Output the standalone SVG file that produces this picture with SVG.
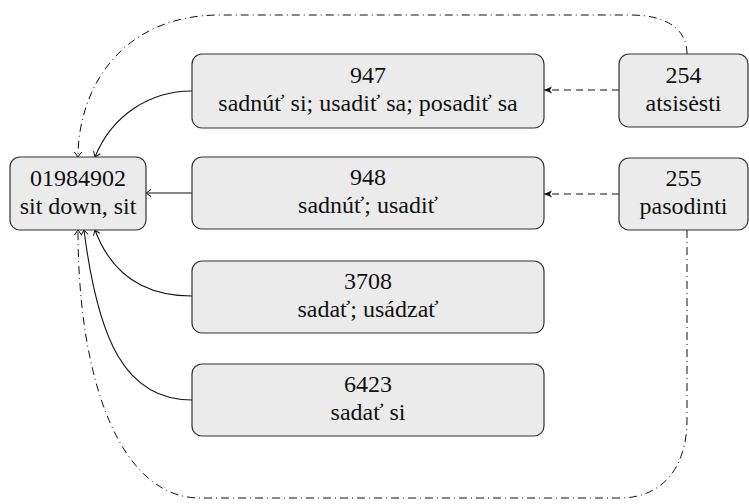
<svg xmlns="http://www.w3.org/2000/svg" width="749" height="504" viewBox="0 0 749 504">
<style>
.box{fill:#ebebeb;stroke:#333;stroke-width:1.2}
text{font-size:24px;fill:#111;text-anchor:middle}
.solid{fill:none;stroke:#111;stroke-width:1.1;marker-end:url(#open)}
.dash{fill:none;stroke:#111;stroke-width:1.1;stroke-dasharray:7 5;marker-end:url(#fill)}
.dd{fill:none;stroke:#111;stroke-width:1;stroke-dasharray:8 4 1 4;marker-end:url(#open)}
</style>
<defs>
<marker id="open" viewBox="-6 -5 8 10" refX="0" refY="0" markerWidth="8" markerHeight="10" markerUnits="userSpaceOnUse" orient="auto">
<path d="M-5,-3.6 Q-1.5,-1 0,0 Q-1.5,1 -5,3.6" fill="none" stroke="#111" stroke-width="1"/>
</marker>
<marker id="fill" viewBox="-9 -5 10 10" refX="0" refY="0" markerWidth="10" markerHeight="10" markerUnits="userSpaceOnUse" orient="auto">
<path d="M0,0 L-8,-3.5 L-6,0 L-8,3.5 Z" fill="#111"/>
</marker>
</defs>
<g id="connectors">
<path class="solid" d="M192,91 C150,91 112,115 95,157"/>
<path class="solid" d="M192,193 L146,193"/>
<path class="solid" d="M192,296 C135,296 108,265 95,230"/>
<path class="solid" d="M192,400 C125,400 98,340 84,230"/>
<path class="dash" d="M619,90 L544,90"/>
<path class="dash" d="M619,194 L544,194"/>
<path class="dd" d="M687,54 C687,30 668,15 630,15 L220,15 C120,15 78,90 78,157"/>
<path class="dd" d="M687,230 L687,420 C687,470 660,498 620,498 L200,498 C120,498 78,380 78,230"/>
</g>
<g font-family="Liberation Serif, serif">
<g id="n01984902">
<rect class="box" x="10" y="157" width="136" height="73" rx="10"/>
<text x="78" y="186">01984902</text>
<text x="78" y="214">sit down, sit</text>
</g>
<g id="n947">
<rect class="box" x="192" y="54" width="352" height="74" rx="10"/>
<text x="368" y="83">947</text>
<text x="368" y="111">sadnúť si; usadiť sa; posadiť sa</text>
</g>
<g id="n948">
<rect class="box" x="192" y="157" width="352" height="72" rx="10"/>
<text x="368" y="185">948</text>
<text x="368" y="213">sadnúť; usadiť</text>
</g>
<g id="n3708">
<rect class="box" x="192" y="261" width="352" height="72" rx="10"/>
<text x="368" y="289">3708</text>
<text x="368" y="317">sadať; usádzať</text>
</g>
<g id="n6423">
<rect class="box" x="192" y="364" width="352" height="72" rx="10"/>
<text x="368" y="392">6423</text>
<text x="368" y="420">sadať si</text>
</g>
<g id="n254">
<rect class="box" x="619" y="54" width="129" height="73" rx="10"/>
<text x="683.5" y="83">254</text>
<text x="683.5" y="111">atsisėsti</text>
</g>
<g id="n255">
<rect class="box" x="619" y="158" width="129" height="72" rx="10"/>
<text x="683.5" y="186">255</text>
<text x="683.5" y="214">pasodinti</text>
</g>
</g>
</svg>
